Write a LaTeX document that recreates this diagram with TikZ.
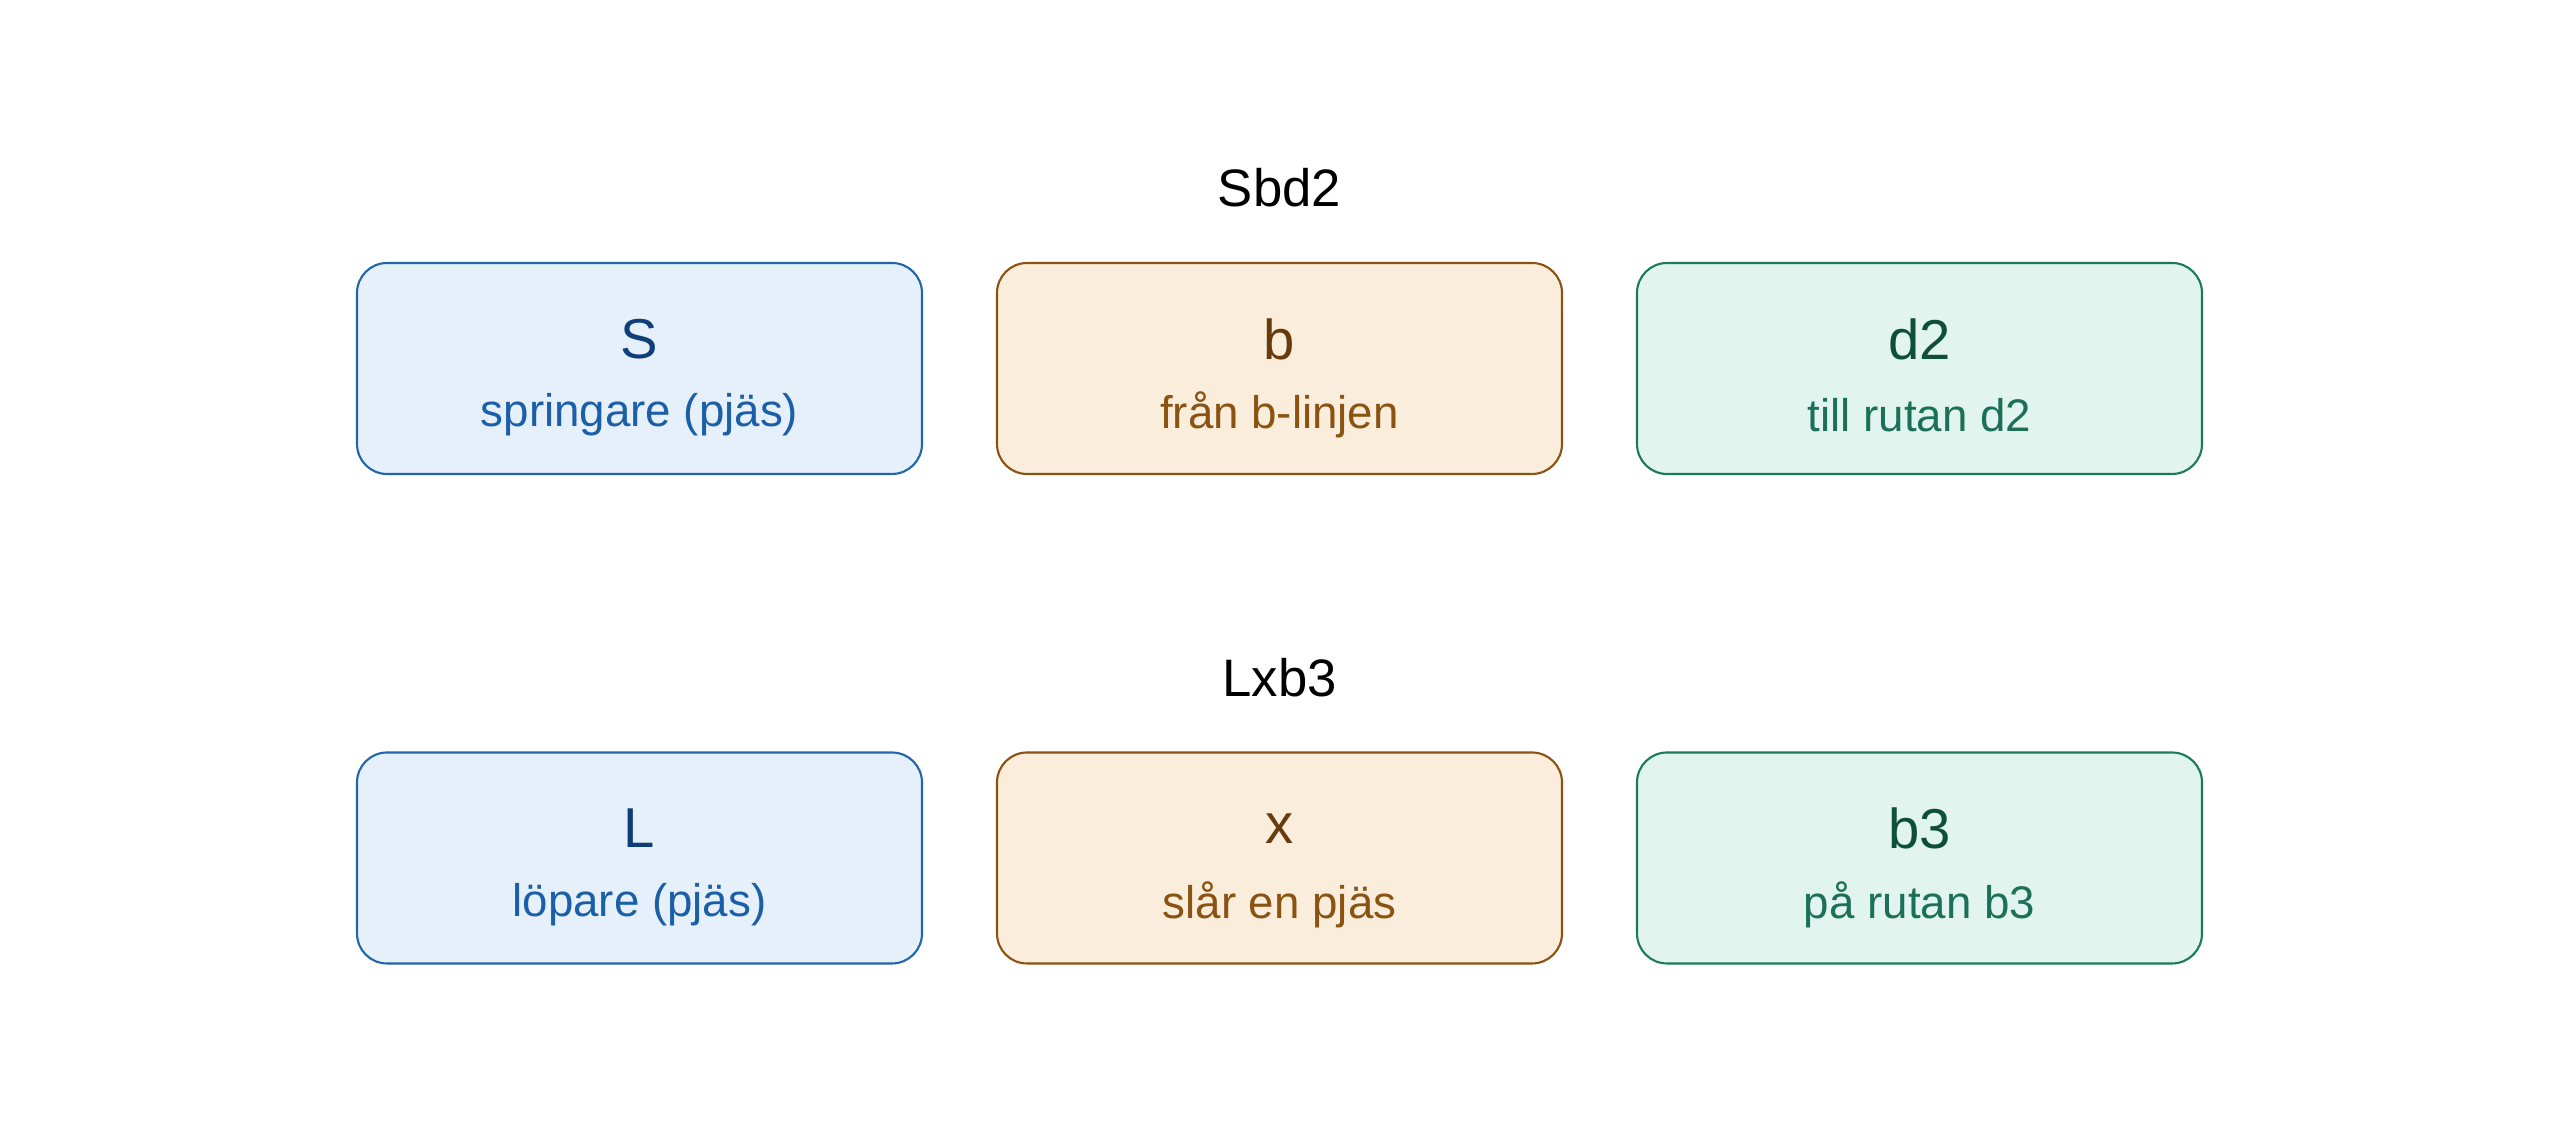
\documentclass[tikz,border=0pt]{standalone}
\usepackage{fontspec}
\setmainfont{Liberation Sans}
\usetikzlibrary{positioning}
\definecolor{bluefill}{HTML}{E6F0FA}
\definecolor{bluedraw}{HTML}{2266AA}
\definecolor{bluehead}{HTML}{0E3F78}
\definecolor{bluesub}{HTML}{1A5FA8}
\definecolor{orangefill}{HTML}{FBEDDB}
\definecolor{orangedraw}{HTML}{8B5212}
\definecolor{orangehead}{HTML}{693A0B}
\definecolor{orangesub}{HTML}{8A5312}
\definecolor{greenfill}{HTML}{E1F4EE}
\definecolor{greendraw}{HTML}{1B7A5A}
\definecolor{greenhead}{HTML}{0E4F3A}
\definecolor{greensub}{HTML}{1B7055}
\tikzset{
  part/.style={draw, rounded corners=0.3cm, minimum width=5.65cm, minimum height=2.11cm, line width=0.6pt},
  head/.style={font=\fontsize{16}{18}\selectfont, inner sep=0pt},
  sub/.style={font=\fontsize{13}{15}\selectfont, inner sep=0pt},
  title/.style={font=\fontsize{15}{18}\selectfont, inner sep=0pt}
}
\begin{document}
\begin{tikzpicture}
            \useasboundingbox (0,0) rectangle (25.6,11.29);
            % first move
            \node[title] (t1) at (12.795,9.41) {Sbd2};
            \node[part, draw=bluedraw, fill=bluefill] (s) at (6.395,7.605) {};
            \node[part, draw=orangedraw, fill=orangefill] (b) at (12.795,7.605) {};
            \node[part, draw=greendraw, fill=greenfill] (d2) at (19.195,7.605) {};
            \node[head, text=bluehead] at ([yshift=0.295cm]s.center) {S};
            \node[sub, text=bluesub] at ([yshift=-0.465cm]s.center) {springare (pjäs)};
            \node[head, text=orangehead] at ([yshift=0.295cm]b.center) {b};
            \node[sub, text=orangesub] at ([yshift=-0.465cm]b.center) {från b-linjen};
            \node[head, text=greenhead] at ([yshift=0.295cm]d2.center) {d2};
            \node[sub, text=greensub] at ([yshift=-0.465cm]d2.center) {till rutan d2};
            % second move
            \node[title] (t2) at (12.795,4.51) {Lxb3};
            \node[part, draw=bluedraw, fill=bluefill] (l) at (6.395,2.71) {};
            \node[part, draw=orangedraw, fill=orangefill] (x) at (12.795,2.71) {};
            \node[part, draw=greendraw, fill=greenfill] (b3) at (19.195,2.71) {};
            \node[head, text=bluehead] at ([yshift=0.295cm]l.center) {L};
            \node[sub, text=bluesub] at ([yshift=-0.465cm]l.center) {löpare (pjäs)};
            \node[head, text=orangehead] at ([yshift=0.295cm]x.center) {x};
            \node[sub, text=orangesub] at ([yshift=-0.465cm]x.center) {slår en pjäs};
            \node[head, text=greenhead] at ([yshift=0.295cm]b3.center) {b3};
            \node[sub, text=greensub] at ([yshift=-0.465cm]b3.center) {på rutan b3};
\end{tikzpicture}
\end{document}
